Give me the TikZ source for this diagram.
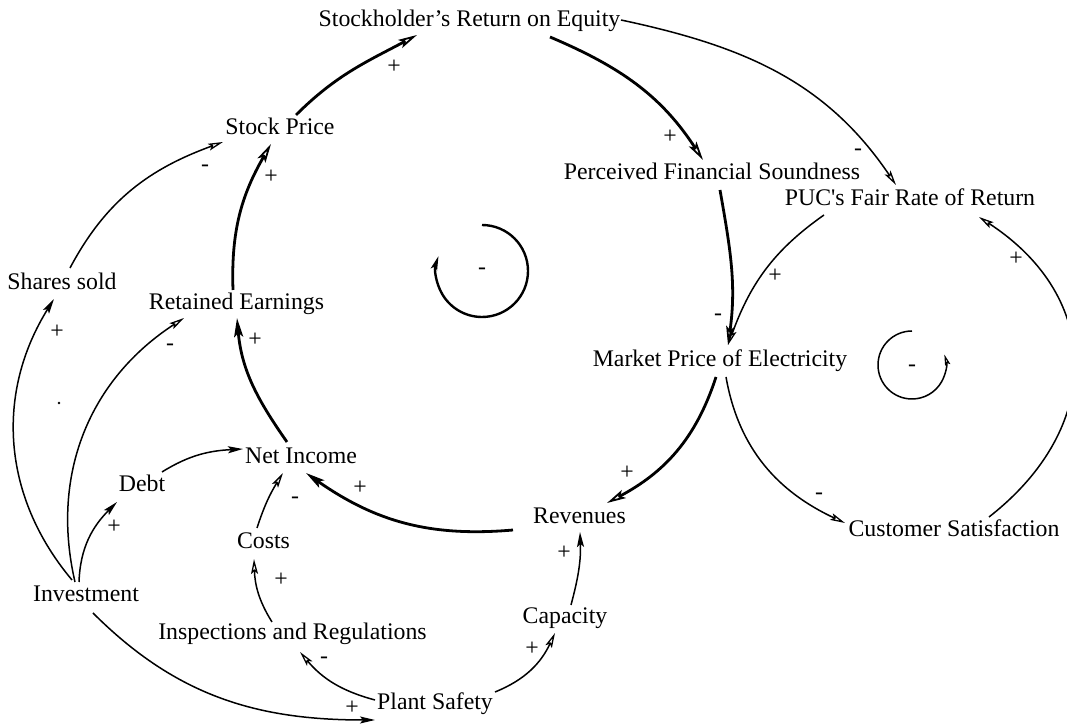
\documentclass[tikz,border=0pt]{standalone}
\usepackage{fontspec}
\setmainfont{Liberation Serif}
\usetikzlibrary{arrows.meta}
\newcommand\diafont{\fontsize{23.8bp}{28bp}\selectfont}

\begin{document}
\begin{tikzpicture}[x=1bp,y=1bp,
  var/.style={font=\diafont, inner sep=0pt, text height=0.7em, text depth=0.22em},
  sgn/.style={font=\diafont, inner sep=0pt},
  thin link/.style={line width=1.5bp, -{Stealth[length=15bp,width=7bp,inset=3bp,open,line width=1.3bp]}},
  thin full/.style={line width=1.5bp, -{Stealth[length=15bp,width=7bp,inset=3bp]}},
  main link/.style={line width=2.8bp, -{Stealth[length=19bp,width=9bp,inset=4bp,open,line width=1.8bp]}},
  main full/.style={line width=2.8bp, -{Stealth[length=19bp,width=9bp,inset=4bp]}},
]
\useasboundingbox (0,0) rectangle (1067,726);
\fill[white] (0,0) rectangle (1067,726);

% variables
\node[var] (sre)   at (469.5,701.6) {Stockholder’s Return on Equity};
\node[var] (sp)    at (280,593.6)   {Stock Price};
\node[var] (pfs)   at (712,548.6)   {Perceived Financial Soundness};
\node[var] (puc)   at (910,522.6)   {PUC\textquotesingle s Fair Rate of Return};
\node[var] (ss)    at (62,438.6)    {Shares sold};
\node[var] (re)    at (236.5,418.6) {Retained Earnings};
\node[var] (mpe)   at (720,361.6)   {Market Price of Electricity};
\node[var] (ni)    at (301,264.6)   {Net Income};
\node[var] (debt)  at (142,236.6)   {Debt};
\node[var] (rev)   at (579.5,204.6) {Revenues};
\node[var] (cs)    at (954,191.6)   {Customer Satisfaction};
\node[var] (costs) at (263.5,179.6) {Costs};
\node[var] (inv)   at (86,126.6)    {Investment};
\node[var] (cap)   at (565,104.6)   {Capacity};
\node[var] (insp)  at (292.5,88.6)  {Inspections and Regulations};
\node[var] (ps)    at (435,18.6)    {Plant Safety};

% main balancing loop
\draw[main link] ([shift={(16,17.4)}]sp.center) to[out=45,in=208] ([shift={(-52.5,-10.6)}]sre.center);
\draw[main link] ([shift={(80.5,-12.6)}]sre.center) to[out=-23,in=123] ([shift={(-9,17.4)}]pfs.center);
\draw[main link] ([shift={(8,-12.6)}]pfs.center) to[out=-80,in=82] ([shift={(8,19.4)}]mpe.center);
\draw[main link] ([shift={(-4,-12.6)}]mpe.center) to[out=-108,in=28] ([shift={(27.5,18.4)}]rev.center);
\draw[main full] ([shift={(-66.5,-8.6)}]rev.center) to[out=185,in=-35] ([shift={(5,-11.6)}]ni.center);
\draw[main full] ([shift={(-14,19.4)}]ni.center) to[out=125,in=-85] ([shift={(0.5,-10.6)}]re.center);
\draw[main link] ([shift={(-3.5,17.4)}]re.center) to[out=92,in=-120] ([shift={(-9,-11.6)}]sp.center);

% other links
\draw[thin link] ([shift={(151.5,4.4)}]sre.center) to[out=-12,in=124] ([shift={(-14,18.4)}]puc.center);
\draw[thin link] ([shift={(-86,-11.6)}]puc.center) to[out=215,in=70] ([shift={(8,19.4)}]mpe.center);
\draw[thin link] ([shift={(6,-12.6)}]mpe.center) to[out=-80,in=155] ([shift={(-109,11.4)}]cs.center);
\draw[thin link] ([shift={(35,17.4)}]cs.center) to[out=38,in=-33,looseness=1.25] ([shift={(69,-13.6)}]puc.center);
\draw[thin link] ([shift={(8,19.4)}]ss.center) to[out=62,in=-160] ([shift={(-57,-9.6)}]sp.center);
\draw[thin full] ([shift={(-14,19.4)}]inv.center) to[out=130,in=-122] ([shift={(-8,-11.6)}]ss.center);
\draw[thin link] ([shift={(-11,17.4)}]inv.center) to[out=103,in=-147] ([shift={(-52.5,-10.6)}]re.center);
\draw[thin full] ([shift={(-7,17.4)}]inv.center) to[out=88,in=-135] ([shift={(-25,-12.6)}]debt.center);
\draw[thin full] ([shift={(20,17.4)}]debt.center) to[out=32,in=183] ([shift={(-58,12.4)}]ni.center);
\draw[thin link] ([shift={(-6.5,18.4)}]costs.center) to[out=72,in=-122] ([shift={(-18,-11.6)}]ni.center);
\draw[thin link] ([shift={(-20.5,15.4)}]insp.center) to[out=122,in=-88] ([shift={(-9.5,-12.6)}]costs.center);
\draw[thin link] ([shift={(-60,7.4)}]ps.center) to[out=165,in=-50] ([shift={(7.5,-14.6)}]insp.center);
\draw[thin full] ([shift={(7,-13.6)}]inv.center) to[out=-45,in=180] ([shift={(-60,-12.6)}]ps.center);
\draw[thin link] ([shift={(60,15.4)}]ps.center) to[out=22,in=-115] ([shift={(-10,-11.6)}]cap.center);
\draw[thin full] ([shift={(6,16.4)}]cap.center) to[out=75,in=-88] ([shift={(0.5,-10.6)}]rev.center);

% polarity signs
\node[sgn] (p1)  at (394,659) {+};
\node[sgn] (p2)  at (670,589) {+};
\node[sgn] (p3)  at (858,574) {-};
\node[sgn] (p4)  at (718,409) {-};
\node[sgn] (p5)  at (775,450) {+};
\node[sgn] (p6)  at (627,253) {+};
\node[sgn] (p7)  at (819,230) {-};
\node[sgn] (p8)  at (1016,467) {+};
\node[sgn] (p9)  at (360,238) {+};
\node[sgn] (p10) at (255,386) {+};
\node[sgn] (p11) at (271,549) {+};
\node[sgn] (p12) at (205,558) {-};
\node[sgn] (p13) at (57,394) {+};
\node[sgn] (p14) at (170,379) {-};
\node[sgn] (p15) at (114,199) {+};
\node[sgn] (p16) at (295,226) {-};
\node[sgn] (p17) at (281,146) {+};
\node[sgn] (p18) at (324,66) {-};
\node[sgn] (p19) at (352,18) {+};
\node[sgn] (p20) at (532,77) {+};
\node[sgn] (p21) at (564,173) {+};

% loop markers
\coordinate (bl) at (482,455);
\draw[line width=2.4bp, -{Stealth[length=14bp,width=6.5bp,inset=3bp]}] ([shift={(90:46)}]bl) arc[start angle=90, end angle=-199, radius=46];
\node[sgn] (blm) at (bl) {-};
\coordinate (sl) at (912,361);
\draw[line width=1.5bp, -{Stealth[length=11bp,width=5.5bp,inset=2bp,open,line width=1.2bp]}] ([shift={(90:34)}]sl) arc[start angle=90, end angle=378, radius=34];
\node[sgn] (slm) at ([yshift=-3]sl) {-};

\fill (59,323) circle[radius=1.3];
\end{tikzpicture}
\end{document}
